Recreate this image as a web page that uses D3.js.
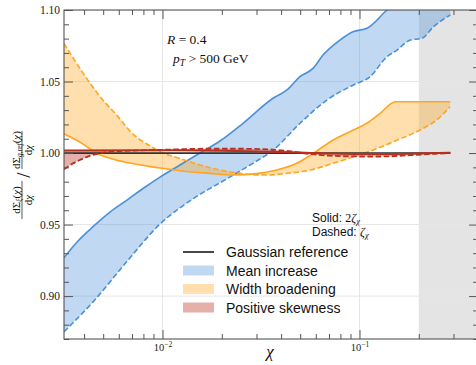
<!DOCTYPE html>
<html>
<head>
<meta charset="utf-8">
<script src="https://cdn.jsdelivr.net/npm/d3@7"></script>
<style>
  body { margin: 0; background: #fff; }
  svg { display: block; }
</style>
</head>
<body>
<svg id="chart" width="476" height="365"></svg>
<script>
// ---- data: ratio of dΣ/dχ to the Gaussian reference, per modification ----
// Solid curves use 2ζχ, dashed curves use ζχ. Points are [χ, ratio].
const meanSolid = [[0.00316,0.9268],[0.003724,0.9385],[0.004437,0.9485],[0.005413,0.9587],[0.006604,0.9671],[0.007962,0.9752],[0.009712,0.9832],[0.01227,0.9916],[0.0155,1.0000],[0.01958,1.0084],[0.02563,1.0208],[0.03638,1.0383],[0.04285,1.0441],[0.04989,1.0534],[0.05807,1.0592],[0.06527,1.0685],[0.0796,1.0790],[0.09268,1.0848],[0.1092,1.0872],[0.1379,1.1000],[0.2,1.118],[0.289,1.132]];
const meanDashed = [[0.00316,0.8750],[0.00443,0.8958],[0.00656,0.9238],[0.0097,0.9503],[0.01432,0.9681],[0.0211,0.9818],[0.0289,0.9930],[0.0365,1.0021],[0.0499,1.0208],[0.0682,1.0370],[0.0931,1.0476],[0.1132,1.0534],[0.1377,1.0673],[0.155,1.0720],[0.181,1.0790],[0.2073,1.0802],[0.2375,1.0883],[0.289,1.0965]];
const widthSolid = [[0.00316,1.0135],[0.0039,1.0068],[0.0046,1.0000],[0.0058,0.9952],[0.0075,0.9920],[0.0097,0.9895],[0.0125,0.9875],[0.0174,0.9858],[0.0229,0.9846],[0.0301,0.9856],[0.038,0.9881],[0.048,0.9928],[0.0583,0.9998],[0.0736,1.0091],[0.0931,1.0161],[0.1089,1.0208],[0.1274,1.0278],[0.152,1.0359],[0.289,1.0359]];
const widthDashed = [[0.00316,1.0767],[0.00396,1.0557],[0.00482,1.0395],[0.00585,1.0265],[0.00711,1.0130],[0.00864,1.0050],[0.00971,1.0010],[0.01227,0.9962],[0.0155,0.9916],[0.01958,0.9881],[0.02473,0.9858],[0.0338,0.9846],[0.0427,0.9858],[0.0561,0.9881],[0.0736,0.9928],[0.0930,0.9974],[0.1175,1.0021],[0.1484,1.0079],[0.2108,1.0173],[0.2465,1.0231],[0.288,1.0324]];
const skewSolid = [[0.00316,1.0018],[0.01,1.0019],[0.02,1.0016],[0.03,1.0011],[0.05,1.0003],[0.07,0.9997],[0.1,0.9993],[0.15,0.9994],[0.2,0.9997],[0.289,1.0002]];
const skewDashed = [[0.00316,0.9886],[0.0034,0.9916],[0.0038,0.9951],[0.0044,0.9986],[0.0054,1.0009],[0.0075,1.0018],[0.0097,1.0022],[0.017,1.0030],[0.025,1.0030],[0.035,1.0025],[0.045,1.0012],[0.055,0.9995],[0.07,0.9982],[0.1,0.9976],[0.13,0.9976],[0.18,0.9985],[0.24,0.9995],[0.289,1.0000]];
const gaussRef = [[0.00316,1.0],[0.289,1.0]];

const seriesNames = ["Gaussian reference", "Mean increase", "Width broadening", "Positive skewness"];
const yMajorTicks = [0.90, 0.95, 1.00, 1.05, 1.10];
const xMajorTicks = [0.01, 0.1];
const xMajorExponents = ["\u22122", "\u22121"];
const shadedFrom = 0.2;

// ---- layout ----
const svg = d3.select("#chart");
const serif = "'Liberation Serif', 'DejaVu Serif', serif";
const sans = "'Liberation Sans', Arial, Helvetica, sans-serif";
const padL = 64, padT = 10, baseY = 339, decade = 197;
const xMin = Math.pow(10, -2.5), xMax = 0.4;
const x = d3.scaleLog().domain([xMin, xMax])
  .range([padL, padL + decade * (Math.log10(xMax) - Math.log10(xMin))]);
const y = d3.scaleLinear().domain([0.87, 1.10]).range([baseY, padT]);
const edgeR = x.range()[1];

const colors = {
  mean: "#4a90d9",
  width: "#ffa51f",
  skew: "#c0392b",
  skewLine: "#b8301f",
  gauss: "#333333"
};

svg.append("defs").append("clipPath").attr("id", "plotClip")
  .append("rect").attr("x", padL).attr("y", padT)
  .attr("width", edgeR - padL).attr("height", baseY - padT);

const plot = svg.append("g").attr("clip-path", "url(#plotClip)");

// shaded region at large χ
plot.append("rect")
  .attr("x", x(shadedFrom)).attr("y", padT)
  .attr("width", edgeR - x(shadedFrom)).attr("height", baseY - padT)
  .attr("fill", "#e4e4e4");

// grid at major ticks
plot.selectAll("line.gx").data(xMajorTicks).join("line")
  .attr("x1", d => x(d)).attr("x2", d => x(d)).attr("y1", padT).attr("y2", baseY)
  .attr("stroke", "#e6e6e6").attr("stroke-width", 1);
plot.selectAll("line.gy").data(yMajorTicks).join("line")
  .attr("x1", padL).attr("x2", edgeR).attr("y1", d => y(d)).attr("y2", d => y(d))
  .attr("stroke", "#e6e6e6").attr("stroke-width", 1);

const line = d3.line().x(d => x(d[0])).y(d => y(d[1])).curve(d3.curveMonotoneX);

function band(solid, dashed, color, opacity) {
  // upper edge follows the solid curve, lower edge walks back along the dashed one
  const upper = line(solid);
  const lowerPath = line(dashed.slice().reverse());
  plot.append("path").attr("d", upper + "L" + lowerPath.slice(1) + "Z")
    .attr("fill", color).attr("fill-opacity", opacity).attr("stroke", "none");
}
band(meanSolid, meanDashed, colors.mean, 0.35);
band(widthSolid, widthDashed, colors.width, 0.36);
band(skewSolid, skewDashed, colors.skew, 0.4);

function curve(data, color, w, dashed) {
  plot.append("path").attr("d", line(data))
    .attr("fill", "none").attr("stroke", color).attr("stroke-width", w)
    .attr("stroke-dasharray", dashed ? "5.5,2.6" : null)
    .attr("stroke-linejoin", "round");
}
curve(meanSolid, colors.mean, 1.6, false);
curve(meanDashed, colors.mean, 1.6, true);
curve(widthSolid, colors.width, 1.6, false);
curve(widthDashed, colors.width, 1.6, true);
curve(gaussRef, colors.gauss, 1.8, false);
curve(skewSolid, colors.skewLine, 2.0, false);
curve(skewDashed, colors.skewLine, 1.8, true);

// ---- axes ----
const yMinor = d3.range(87, 111).map(v => v / 100).filter(v => !yMajorTicks.some(m => Math.abs(m - v) < 1e-9));
const xMinor = [];
[0.001, 0.01, 0.1].forEach(b => { for (let k = 2; k <= 9; k++) { const v = b * k; if (v > xMin && v < xMax) xMinor.push(v); } });

function styleAxis(g) {
  g.select(".domain").remove();
  g.selectAll(".tick line").attr("stroke", "#555").attr("stroke-width", 1);
}

// left
svg.append("g").attr("transform", `translate(${padL},0)`)
  .call(d3.axisLeft(y).tickValues(yMajorTicks).tickSize(-9).tickPadding(4).tickFormat(d3.format(".2f")))
  .call(styleAxis)
  .call(g => g.selectAll("text").attr("font-family", serif).attr("font-size", 11.5).attr("fill", "#222"));
svg.append("g").attr("transform", `translate(${padL},0)`)
  .call(d3.axisLeft(y).tickValues(yMinor).tickSize(-5).tickFormat(""))
  .call(styleAxis);
// right
svg.append("g").attr("transform", `translate(${edgeR},0)`)
  .call(d3.axisRight(y).tickValues(yMajorTicks).tickSize(-9).tickFormat(""))
  .call(styleAxis);
svg.append("g").attr("transform", `translate(${edgeR},0)`)
  .call(d3.axisRight(y).tickValues(yMinor).tickSize(-5).tickFormat(""))
  .call(styleAxis);
// bottom
const xb = svg.append("g").attr("transform", `translate(0,${baseY})`)
  .call(d3.axisBottom(x).tickValues(xMajorTicks).tickSize(-9).tickFormat(""))
  .call(styleAxis);
xb.selectAll(".tick").append("text")
  .attr("y", 12).attr("text-anchor", "middle")
  .attr("font-family", serif).attr("font-size", 10.5).attr("fill", "#222")
  .each(function(d, i) {
    const t = d3.select(this);
    t.append("tspan").text("10");
    t.append("tspan").attr("dy", -4).attr("font-size", 7.5).text(xMajorExponents[i]);
  });
svg.append("g").attr("transform", `translate(0,${baseY})`)
  .call(d3.axisBottom(x).tickValues(xMinor).tickSize(-5).tickFormat(""))
  .call(styleAxis);
// top
svg.append("g").attr("transform", `translate(0,${padT})`)
  .call(d3.axisTop(x).tickValues(xMajorTicks).tickSize(-9).tickFormat(""))
  .call(styleAxis);
svg.append("g").attr("transform", `translate(0,${padT})`)
  .call(d3.axisTop(x).tickValues(xMinor).tickSize(-5).tickFormat(""))
  .call(styleAxis);

// frame
svg.append("rect").attr("x", padL).attr("y", padT)
  .attr("width", edgeR - padL).attr("height", baseY - padT)
  .attr("fill", "none").attr("stroke", "#555").attr("stroke-width", 1.1);

// ---- axis titles ----
svg.append("text").attr("x", 270).attr("y", 357).attr("text-anchor", "middle")
  .attr("font-family", serif).attr("font-style", "italic").attr("font-size", 17).attr("fill", "#111")
  .text("χ");

const yl = svg.append("g").attr("transform", "translate(22,175) rotate(-90)")
  .attr("font-family", serif).attr("fill", "#111");
function fraction(cx, sub) {
  const num = yl.append("text").attr("x", cx).attr("y", -2.5).attr("text-anchor", "middle").attr("font-size", 11);
  num.append("tspan").text("dΣ");
  num.append("tspan").attr("dy", 2.5).attr("font-size", 7.5).attr("font-style", "italic").text(sub);
  num.append("tspan").attr("dy", -2.5).text("(");
  num.append("tspan").attr("font-style", "italic").text("χ");
  num.append("tspan").text(")");
  yl.append("line").attr("x1", cx - 19).attr("x2", cx + 19).attr("y1", 0).attr("y2", 0)
    .attr("stroke", "#111").attr("stroke-width", 0.7);
  const den = yl.append("text").attr("x", cx).attr("y", 9.5).attr("text-anchor", "middle").attr("font-size", 11);
  den.append("tspan").text("d");
  den.append("tspan").attr("font-style", "italic").text("χ");
}
fraction(-25, "ξ");
yl.append("text").attr("x", 0).attr("y", 8).attr("text-anchor", "middle").attr("font-size", 19).text("/");
fraction(25, "g,ref");

// ---- annotations ----
const ann1 = svg.append("text").attr("x", 167).attr("y", 44)
  .attr("font-family", serif).attr("font-size", 13.5).attr("fill", "#111");
ann1.append("tspan").attr("font-style", "italic").text("R");
ann1.append("tspan").text(" = 0.4");
const ann2 = svg.append("text").attr("x", 173).attr("y", 63)
  .attr("font-family", serif).attr("font-size", 13.5).attr("fill", "#111");
ann2.append("tspan").attr("font-style", "italic").text("p");
ann2.append("tspan").attr("font-style", "italic").attr("font-size", 9.5).attr("dy", 3).text("T");
ann2.append("tspan").attr("dy", -3).text(" > 500 GeV");

const s1 = svg.append("text").attr("x", 312).attr("y", 222)
  .attr("font-family", sans).attr("font-size", 12).attr("fill", "#111");
s1.append("tspan").text("Solid: ");
s1.append("tspan").attr("font-family", serif).text("2");
s1.append("tspan").attr("font-family", serif).attr("font-style", "italic").text("ζ");
s1.append("tspan").attr("font-family", serif).attr("font-style", "italic").attr("font-size", 8.5).attr("dy", 1.5).text("χ");
const s2 = svg.append("text").attr("x", 312).attr("y", 236)
  .attr("font-family", sans).attr("font-size", 12).attr("fill", "#111");
s2.append("tspan").text("Dashed: ");
s2.append("tspan").attr("font-family", serif).attr("font-style", "italic").text("ζ");
s2.append("tspan").attr("font-family", serif).attr("font-style", "italic").attr("font-size", 8.5).attr("dy", 1.5).text("χ");

// ---- legend ----
const legend = svg.append("g").attr("transform", "translate(183,0)");
const rows = [
  { name: seriesNames[0], kind: "line", color: colors.gauss, cy: 252 },
  { name: seriesNames[1], kind: "patch", color: colors.mean, op: 0.35, cy: 270.5 },
  { name: seriesNames[2], kind: "patch", color: colors.width, op: 0.36, cy: 289 },
  { name: seriesNames[3], kind: "patch", color: colors.skew, op: 0.4, cy: 307.5 }
];
rows.forEach(r => {
  if (r.kind === "line") {
    legend.append("line").attr("x1", 0).attr("x2", 31).attr("y1", r.cy).attr("y2", r.cy)
      .attr("stroke", r.color).attr("stroke-width", 1.8);
  } else {
    legend.append("rect").attr("x", 0).attr("y", r.cy - 5).attr("width", 31).attr("height", 10)
      .attr("fill", r.color).attr("fill-opacity", r.op);
  }
  legend.append("text").attr("x", 43).attr("y", r.cy + 5)
    .attr("font-family", sans).attr("font-size", 14).attr("fill", "#111").text(r.name);
});
</script>
</body>
</html>
